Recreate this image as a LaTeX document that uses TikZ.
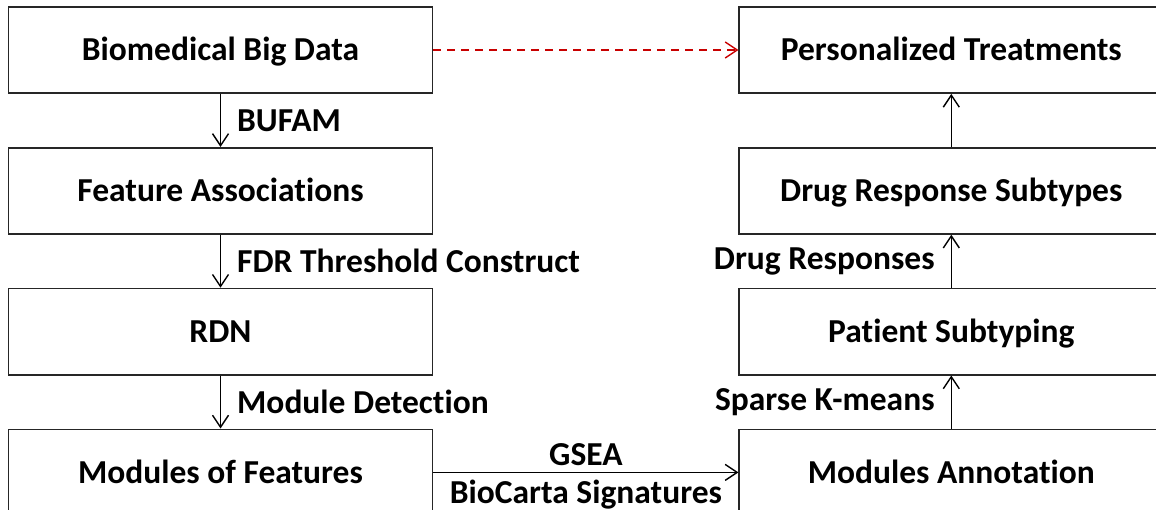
\documentclass[tikz,border=0pt]{standalone}
\usepackage{fontspec}
\setmainfont[Ligatures={NoCommon}]{Carlito}
\usetikzlibrary{positioning}
\usetikzlibrary{arrows.meta}
\definecolor{dashred}{RGB}{200,0,0}
\tikzstyle{block} = [draw=black!85, line width=1.8pt, rectangle,
    minimum height=86pt, minimum width=424pt, text height=22pt, text depth=0pt,
    font=\bfseries\fontsize{33.5}{40}\selectfont]
\tikzstyle{lbl} = [font=\bfseries\fontsize{33.5}{40}\selectfont, inner sep=0pt]
\tikzstyle{flow} = [->, line width=1.4pt]

\begin{document}
\begin{tikzpicture}[x=1pt, y=-1pt, node distance=53pt and 305pt,
    >={Straight Barb[length=12pt,width=16pt]}]
    \clip (0,0) rectangle (1156,510);
    % We start with the pipeline on the left
    \node [block] at (220.5,50) (bigdata) {Biomedical Big Data};
    \node [block, below=of bigdata] (featassoc) {Feature Associations};
    \node [block, below=of featassoc] (rdn) {RDN};
    \node [block, below=of rdn] (modules) {Modules of Features};
    % The right column goes back up to the treatments
    \node [block, right=of bigdata] (treatments) {Personalized Treatments};
    \node [block, below=of treatments] (drugsub) {Drug Response Subtypes};
    \node [block, below=of drugsub] (subtyping) {Patient Subtyping};
    \node [block, below=of subtyping] (annotation) {Modules Annotation};
    % Connect the blocks, labels sit beside the arrows
    \draw [flow] (bigdata) -- node [lbl, right=16pt] {BUFAM} (featassoc);
    \draw [flow] (featassoc) -- node [lbl, right=16pt] {FDR Threshold Construct} (rdn);
    \draw [flow] (rdn) -- node [lbl, right=16pt] {Module Detection} (modules);
    \draw [flow] (modules) -- node [lbl, above=6pt] {GSEA}
        node [lbl, below=7pt] {BioCarta Signatures} (annotation);
    \draw [flow] (annotation) -- node [lbl, left=16pt] {Sparse K-means} (subtyping);
    \draw [flow] (subtyping) -- node [lbl, left=16pt] {Drug Responses} (drugsub);
    \draw [flow] (drugsub) -- (treatments);
    % The shortcut from data straight to treatments
    \draw [flow, dashred, dash pattern=on 8pt off 6pt] (bigdata) -- (treatments);
\end{tikzpicture}
\end{document}
